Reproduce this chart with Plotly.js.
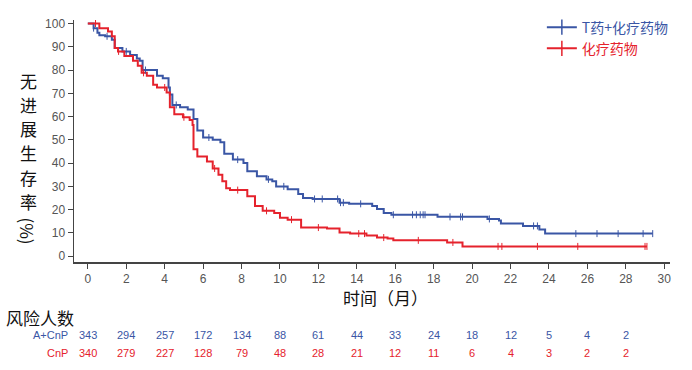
<!DOCTYPE html>
<html>
<head>
<meta charset="utf-8">
<script src="https://cdn.plot.ly/plotly-3.0.1.min.js"></script>
<style>html,body{margin:0;padding:0;background:#fff}#chart{width:692px;height:370px}</style>
</head>
<body>
<div id="chart"></div>
<script>
// ---- data ----
const seriesNames = ['T药+化疗药物', '化疗药物'];
const blueTimes = [0, 0.3, 0.5, 0.6, 0.9, 1.25, 1.4, 1.8, 2.2, 2.55, 2.7, 2.85, 3.6, 3.9, 4.2, 4.27, 4.4, 4.8, 5.2, 5.5, 5.7, 6.0, 6.5, 6.9, 7.1, 7.55, 8.1, 8.3, 8.8, 9.3, 9.6, 9.8, 10.4, 10.95, 11.2, 11.7, 13.1, 13.6, 14.8, 15.05, 15.4, 15.8, 18.2, 20.8, 21.4, 21.5, 22.65, 23.5, 23.8, 29.4];
const blueSurv  = [100, 98, 96, 95, 94.5, 93, 89.5, 88, 86.5, 85, 84, 80, 77.5, 76.5, 72.5, 69.5, 65, 64, 63, 59, 54, 51, 50, 49, 44, 41.5, 40, 36.5, 34.3, 33, 32.2, 30, 28.8, 26.7, 25, 24.6, 23, 22.5, 21.6, 20.3, 18.6, 17.8, 16.9, 16, 15.3, 14, 13, 11.5, 9.7, 9.7];
const redTimes = [0, 0.6, 1.05, 1.25, 1.4, 1.57, 1.9, 2.35, 2.6, 2.8, 3.07, 3.4, 3.6, 4.1, 4.27, 4.5, 4.95, 5.3, 5.45, 5.5, 5.7, 6.2, 6.5, 6.8, 7.0, 7.2, 7.4, 8.3, 8.7, 9.1, 9.7, 10.0, 10.4, 11.1, 12.45, 13.1, 13.65, 14.5, 15.05, 15.6, 15.9, 18.7, 19.5, 29.1];
const redSurv  = [100, 98, 96.6, 94.5, 89.5, 88, 86, 84, 81.8, 78.8, 77.5, 73.7, 72.5, 70.3, 64, 61, 59.7, 58.5, 56.4, 46, 42.8, 40.7, 37.7, 35, 32.2, 29.2, 28.4, 25.8, 21.6, 19.5, 18.6, 16.5, 15.7, 12.3, 11.9, 10.2, 9.7, 8.9, 8, 7.6, 6.8, 5.9, 4.2, 4.2];
const blueCensor = [0.3, 1.0, 2.0, 3.0, 4.6, 6.3, 7.8, 9.4, 10.2, 11.8, 12.2, 13.0, 13.15, 13.3, 14.2, 15.9, 16.9, 17.1, 17.3, 17.45, 17.55, 18.85, 19.4, 19.5, 20.9, 23.2, 23.4, 25.4, 26.5, 27.6, 28.9, 29.4];
const redCensor  = [0.4, 1.6, 2.9, 4.0, 5.0, 6.6, 7.8, 9.3, 10.6, 12.0, 14.1, 14.4, 15.4, 17.2, 19.0, 21.35, 21.55, 23.4, 25.5, 29.0, 29.1];
const riskTimes = [0, 2, 4, 6, 8, 10, 12, 14, 16, 18, 20, 22, 24, 26, 28];
const riskA = [343, 294, 257, 172, 134, 88, 61, 44, 33, 24, 18, 12, 5, 4, 2];
const riskC = [340, 279, 227, 128, 79, 48, 28, 21, 12, 11, 6, 4, 3, 2, 2];
const riskLabels = ['A+CnP', 'CnP'];
const xTicks = [0, 2, 4, 6, 8, 10, 12, 14, 16, 18, 20, 22, 24, 26, 28, 30];
const yTicks = [0, 10, 20, 30, 40, 50, 60, 70, 80, 90, 100];
const yTitleChars = ['无', '进', '展', '生', '存', '率'];

const BLUE = '#3a56a5', RED = '#e5222c';
const CJK = '"Noto Sans CJK SC", sans-serif';
const LAT = '"Liberation Sans", Arial, sans-serif';

function stepAt(times, surv, t) {
  let v = surv[0];
  for (let i = 0; i < times.length; i++) { if (times[i] <= t) v = surv[i]; }
  return v;
}

const traces = [
  {x: blueTimes, y: blueSurv, mode: 'lines', line: {shape: 'hv', color: BLUE, width: 2}, showlegend: false, hoverinfo: 'skip'},
  {x: redTimes, y: redSurv, mode: 'lines', line: {shape: 'hv', color: RED, width: 2}, showlegend: false, hoverinfo: 'skip'},
  {x: blueCensor, y: blueCensor.map(t => stepAt(blueTimes, blueSurv, t)), mode: 'markers',
   marker: {symbol: 'line-ns', size: 5, line: {color: BLUE, width: 1}}, showlegend: false},
  {x: redCensor, y: redCensor.map(t => stepAt(redTimes, redSurv, t)), mode: 'markers',
   marker: {symbol: 'line-ns', size: 5, line: {color: RED, width: 1}}, showlegend: false},
  {x: [null], y: [null], mode: 'lines+markers', name: '<span style="color:' + BLUE + '">' + seriesNames[0] + '</span>',
   line: {color: BLUE, width: 2}, marker: {symbol: 'line-ns', size: 11, line: {color: BLUE, width: 1.5}}},
  {x: [null], y: [null], mode: 'lines+markers', name: '<span style="color:' + RED + '">' + seriesNames[1] + '</span>',
   line: {color: RED, width: 2}, marker: {symbol: 'line-ns', size: 11, line: {color: RED, width: 1.5}}}
];

const annotations = [];
const plotTop = 17, plotH = 245;
function py(px) { return (plotTop + plotH - px) / plotH; }
// y-axis title, stacked characters
yTitleChars.forEach((c, i) => {
  annotations.push({text: c, xref: 'paper', yref: 'paper', x: (28 - 74) / 596, y: py(78 + i * 24.5),
    showarrow: false, xanchor: 'center', yanchor: 'middle', borderpad: 0, font: {family: CJK, size: 17, color: '#111'}});
});
annotations.push({text: '(%)', textangle: 90, xref: 'paper', yref: 'paper', x: (28 - 74) / 596, y: py(230),
  showarrow: false, xanchor: 'center', yanchor: 'middle', borderpad: 0, font: {family: CJK, size: 17, color: '#111'}});
// x-axis title
annotations.push({text: '时间（月）', xref: 'x', yref: 'paper', x: 15.5, y: py(298), showarrow: false,
  xanchor: 'center', yanchor: 'middle', font: {family: CJK, size: 17, color: '#111'}});
// risk table
annotations.push({text: '风险人数', xref: 'paper', yref: 'paper', x: (4 - 74) / 596, y: py(318), showarrow: false,
  xanchor: 'left', yanchor: 'middle', font: {family: CJK, size: 17, color: '#111'}});
annotations.push({text: riskLabels[0], xref: 'paper', yref: 'paper', x: (70 - 74) / 596, y: py(336), showarrow: false,
  xanchor: 'right', yanchor: 'middle', font: {family: LAT, size: 11, color: BLUE}});
annotations.push({text: riskLabels[1], xref: 'paper', yref: 'paper', x: (70 - 74) / 596, y: py(354), showarrow: false,
  xanchor: 'right', yanchor: 'middle', font: {family: LAT, size: 11, color: RED}});
riskTimes.forEach((t, i) => {
  annotations.push({text: String(riskA[i]), xref: 'x', yref: 'paper', x: t, y: py(336), showarrow: false,
    xanchor: 'center', yanchor: 'middle', font: {family: LAT, size: 11, color: BLUE}});
  annotations.push({text: String(riskC[i]), xref: 'x', yref: 'paper', x: t, y: py(354), showarrow: false,
    xanchor: 'center', yanchor: 'middle', font: {family: LAT, size: 11, color: RED}});
});

const layout = {
  width: 692, height: 370,
  margin: {l: 74, r: 22, t: 17, b: 108, pad: 0},
  paper_bgcolor: '#fff', plot_bgcolor: '#fff',
  showlegend: true,
  legend: {x: 0.785, y: 1.035, xanchor: 'left', yanchor: 'top', bgcolor: 'rgba(0,0,0,0)',
    font: {family: CJK, size: 14}, itemwidth: 30, tracegroupgap: 0},
  xaxis: {range: [-0.72, 30.3], tickvals: xTicks, ticktext: xTicks.map(String), ticks: 'outside', ticklen: 5,
    tickcolor: '#444', showline: true, linecolor: '#444', linewidth: 1.5, showgrid: false, zeroline: false,
    tickfont: {family: LAT, size: 12, color: '#555'}},
  yaxis: {range: [-2.5, 101.5], tickvals: yTicks, ticktext: yTicks.map(String), ticks: 'outside', ticklen: 5,
    tickcolor: '#444', showline: true, linecolor: '#444', linewidth: 1.5, showgrid: false, zeroline: false,
    tickfont: {family: LAT, size: 12, color: '#555'}},
  annotations: annotations
};

Plotly.newPlot('chart', traces, layout, {staticPlot: true, displayModeBar: false});
</script>
</body>
</html>
